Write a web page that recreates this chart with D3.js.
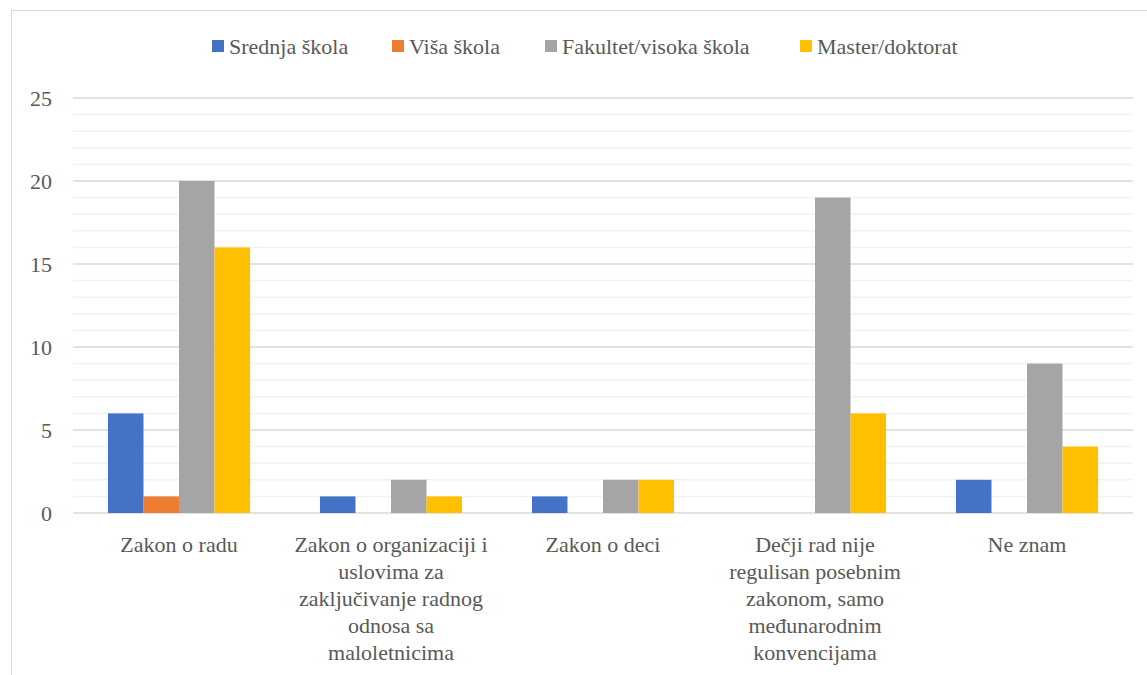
<!DOCTYPE html>
<html>
<head>
<meta charset="utf-8">
<script src="https://cdn.jsdelivr.net/npm/d3@7"></script>
<style>
    body { margin: 0; background: #fff; }
</style>
</head>
<body>
<div id="chart"></div>
<script>
const categories = [
    ['Zakon o radu'],
    ['Zakon o organizaciji i', 'uslovima za', 'zaključivanje radnog', 'odnosa sa', 'maloletnicima'],
    ['Zakon o deci'],
    ['Dečji rad nije', 'regulisan posebnim', 'zakonom, samo', 'međunarodnim', 'konvencijama'],
    ['Ne znam']
];
const seriesNames = ['Srednja škola', 'Viša škola', 'Fakultet/visoka škola', 'Master/doktorat'];
const seriesColors = ['#4472C4', '#ED7D31', '#A5A5A5', '#FFC000'];
const srednja = [6, 1, 1, 0, 2];
const visa = [1, 0, 0, 0, 0];
const fakultet = [20, 2, 2, 19, 9];
const master = [16, 1, 2, 6, 4];
const yTicks = [0, 5, 10, 15, 20, 25];

const series = [srednja, visa, fakultet, master];
const fontFamily = "'Liberation Serif', 'Times New Roman', Times, serif";

const width = 1147, height = 675;
const margin = {top: 98, right: 14, bottom: 162, left: 73};
const w = width - margin.left - margin.right;
const h = height - margin.top - margin.bottom;

let svg = d3.select('#chart').append('svg')
    .attr('width', width)
    .attr('height', height)
    .attr('font-family', fontFamily);

// chart frame
svg.append('rect')
    .attr('x', 11.5).attr('y', 10.5)
    .attr('width', 1140).attr('height', 700)
    .attr('fill', 'none')
    .attr('stroke', '#d9d9d9')
    .attr('stroke-width', 1);

let g = svg.append('g')
    .attr('transform', 'translate(' + margin.left + ',' + margin.top + ')');

let x0 = d3.scaleBand().domain(d3.range(categories.length)).range([0, w]).paddingInner(0.33).paddingOuter(0.165);
let x1 = d3.scaleBand().domain(d3.range(series.length)).range([0, x0.bandwidth()]);
let y = d3.scaleLinear().domain([0, 25]).range([h, 0]);

// minor gridlines
g.selectAll('.minor')
    .data(d3.range(1, 25).filter(v => v % 5 !== 0))
    .enter().append('line')
    .attr('x1', 0).attr('x2', w)
    .attr('y1', d => y(d)).attr('y2', d => y(d))
    .attr('stroke', '#f2f2f2')
    .attr('stroke-width', 1.5);

// major gridlines
g.selectAll('.major')
    .data(yTicks)
    .enter().append('line')
    .attr('x1', 0).attr('x2', w)
    .attr('y1', d => y(d)).attr('y2', d => y(d))
    .attr('stroke', '#d9d9d9')
    .attr('stroke-width', 1.5);

// y tick labels
g.selectAll('.ytick')
    .data(yTicks)
    .enter().append('text')
    .attr('x', -21)
    .attr('y', d => y(d))
    .attr('dy', '0.35em')
    .attr('text-anchor', 'end')
    .attr('fill', '#595959')
    .style('font-size', '22px')
    .text(d => d);

// bars
series.forEach(function(vals, si) {
    g.selectAll('.bar-' + si)
        .data(vals)
        .enter().append('rect')
        .attr('x', (d, i) => x0(i) + x1(si))
        .attr('y', d => y(d))
        .attr('width', x1.bandwidth())
        .attr('height', d => h - y(d))
        .attr('fill', seriesColors[si]);
});

// category labels
let cat = g.selectAll('.cat')
    .data(categories)
    .enter().append('text')
    .attr('text-anchor', 'middle')
    .attr('fill', '#595959')
    .style('font-size', '22px')
    .attr('transform', (d, i) => 'translate(' + (x0(i) + x0.bandwidth() / 2) + ',' + (h + 39) + ')');

cat.selectAll('tspan')
    .data(d => d)
    .enter().append('tspan')
    .attr('x', 0)
    .attr('y', (d, i) => i * 27)
    .text(d => d);

// legend
let legendX = [212, 392, 545, 800];
let legend = svg.selectAll('.legend')
    .data(seriesNames)
    .enter().append('g')
    .attr('transform', (d, i) => 'translate(' + legendX[i] + ',40)');

legend.append('rect')
    .attr('width', 12).attr('height', 12)
    .attr('fill', (d, i) => seriesColors[i]);

legend.append('text')
    .attr('x', 17)
    .attr('y', 6)
    .attr('dy', '0.35em')
    .attr('fill', '#595959')
    .style('font-size', '22px')
    .text(d => d);
</script>
</body>
</html>
